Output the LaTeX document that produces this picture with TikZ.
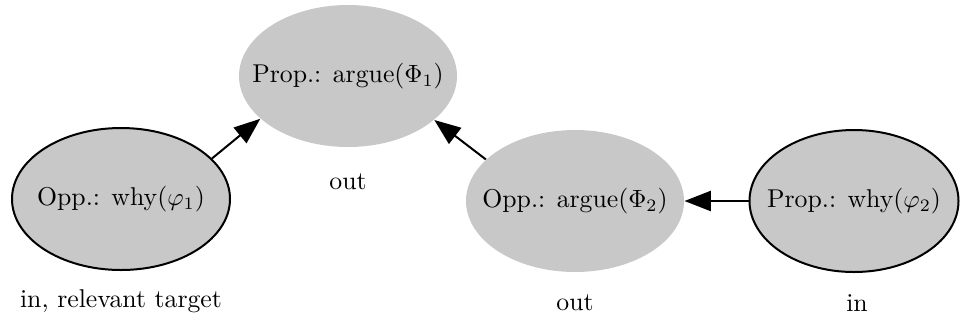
\documentclass[tikz,border=0pt]{standalone}
\usepackage{amsmath}
\usepackage{xcolor}
\usepackage{tikz}
\usetikzlibrary{arrows.meta,shapes.geometric}
\definecolor{nodegray}{HTML}{C8C8C8}

\begin{document}
\begin{tikzpicture}[x=0.4pt,y=-0.4pt,font=\fontsize{10.3pt}{12pt}\selectfont,
    arg/.style={ellipse,fill=nodegray,inner sep=0pt,minimum width=87.2pt,minimum height=56.8pt},
    argin/.style={arg,draw=black,line width=0.8pt},
    attack/.style={-{Triangle[length=10.5pt,width=8pt]},line width=0.8pt}]
  \useasboundingbox (0,0) rectangle (960,322);
  \node[arg] (argone) at (348,76) {\makebox[0pt]{Prop.: argue($\Phi_1$)}};
  \node[argin] (whyone) at (121,199) {\makebox[0pt]{Opp.: why($\varphi_1$)}};
  \node[arg] (argtwo) at (575,201) {\makebox[0pt]{Opp.: argue($\Phi_2$)}};
  \node[argin,minimum width=83.6pt] (whytwo) at (854,201) {\makebox[0pt]{Prop.: why($\varphi_2$)}};
  \node (lblargone) at (348,182) {out};
  \node (lblwhyone) at (121,301) {in, relevant target};
  \node (lblargtwo) at (575,303) {out};
  \node (lblwhytwo) at (857,303) {in};
  \draw[attack] (whyone.24) -- (argone.206);
  \draw[attack] (argtwo.155) -- (argone.333);
  \draw[attack] (whytwo.west) -- (argtwo.east);
\end{tikzpicture}
\end{document}
